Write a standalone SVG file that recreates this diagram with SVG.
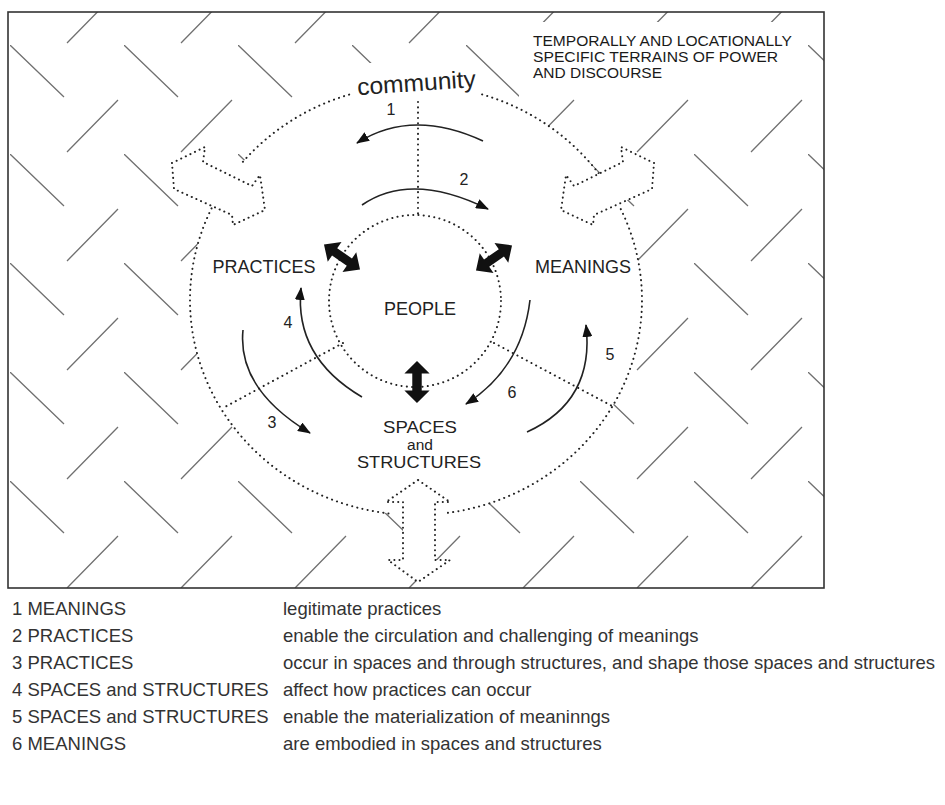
<svg xmlns="http://www.w3.org/2000/svg" width="945" height="805" viewBox="0 0 945 805">
<style>
  .dot{fill:none;stroke:#222;stroke-width:2;stroke-dasharray:0.1 5.2;stroke-linecap:round}
  .hollow{fill:#fff;stroke:#222;stroke-width:2;stroke-dasharray:0.1 5;stroke-linecap:round;stroke-linejoin:round}
  .thick{fill:#111}
  .curve{fill:none;stroke:#222;stroke-width:1.6}
  text{font-family:"Liberation Sans",Arial,sans-serif;fill:#222}
  .lbl{font-size:18px;text-anchor:middle}
  .num{font-size:16px;text-anchor:middle}
  .leg{font-size:18.5px;fill:#333}
  .tr{font-size:14.5px;fill:#1a1a1a}
</style>
<defs>
  <pattern id="hatch" patternUnits="userSpaceOnUse" x="10" y="45" width="114" height="109">
    <path d="M0,0 L54,52 M57,107 L108,55" stroke="#707070" stroke-width="1.3" fill="none"/>
  </pattern>
  <marker id="ah" viewBox="0 0 13 10" refX="12" refY="5" markerWidth="13" markerHeight="10" markerUnits="userSpaceOnUse" orient="auto">
    <path d="M0,0 L13,5 L0,10 z" fill="#111"/>
  </marker>
  <path id="dbl" d="M-22,0 L-9,-12 L-9,-4.5 L9,-4.5 L9,-12 L22,0 L9,12 L9,4.5 L-9,4.5 L-9,12 Z"/>
  <polygon id="hollowArrow" points="172,163 205,147 203,162 252,186 260,175 265,210 233,225 232,215 174,189"/>
</defs>

<rect x="0" y="0" width="945" height="805" fill="#fff"/>

<!-- terrain background -->
<g id="terrain">
  <rect x="8" y="12" width="816" height="576" fill="url(#hatch)"/>
  <ellipse cx="416" cy="300" rx="226" ry="215" fill="#fff"/>
  <rect x="354" y="63" width="130" height="35" fill="#fff"/>
  <rect x="519" y="22" width="282" height="76" fill="#fff"/>
  <rect x="8" y="12" width="816" height="576" fill="none" stroke="#333" stroke-width="1.6"/>
</g>

<g id="terrain-label">
  <text class="tr" x="533" y="46" textLength="259" lengthAdjust="spacingAndGlyphs">TEMPORALLY AND LOCATIONALLY</text>
  <text class="tr" x="533" y="62" textLength="245" lengthAdjust="spacingAndGlyphs">SPECIFIC TERRAINS OF POWER</text>
  <text class="tr" x="533" y="77.5" textLength="129" lengthAdjust="spacingAndGlyphs">AND DISCOURSE</text>
</g>

<!-- dotted rings and dividers -->
<g id="rings">
  <path class="dot" d="M482.1,94.4 A226,215 0 0 1 598.8,173.6"/>
  <path class="dot" d="M620.8,209.1 A226,215 0 0 1 443.5,513.4"/>
  <path class="dot" d="M388.5,513.4 A226,215 0 0 1 212.9,205.7"/>
  <path class="dot" d="M242.9,161.8 A226,215 0 0 1 353.7,93.3"/>
  <circle class="dot" cx="415" cy="301" r="86"/>
  <path class="dot" d="M418,102 L418,215"/>
  <path class="dot" d="M343,343 L223,408"/>
  <path class="dot" d="M494,343 L612,406"/>
</g>

<g id="connectors">
  <!-- hollow dotted arrows to the terrain -->
  <use href="#hollowArrow" class="hollow"/>
  <use href="#hollowArrow" class="hollow" transform="translate(826,0) scale(-1,1)"/>
  <polygon class="hollow" points="418,480 386,502 403,502 403,560 388,560 418,582 450,560 435,560 435,502 450,502"/>
  <!-- thick double arrows between people and the three elements -->
  <use href="#dbl" class="thick" transform="translate(342,257) rotate(35)"/>
  <use href="#dbl" class="thick" transform="translate(494,258) rotate(-35)"/>
  <use href="#dbl" class="thick" transform="translate(417,382) rotate(90) scale(0.95,1.05)"/>
  <!-- numbered curved arrows -->
  <path class="curve" d="M483,141 Q412,108 357,143" marker-end="url(#ah)"/>
  <path class="curve" d="M362,205 Q411,171 488,209" marker-end="url(#ah)"/>
  <path class="curve" d="M243,330 Q237,389 310,433" marker-end="url(#ah)"/>
  <path class="curve" d="M362,397 Q294,357 301,288" marker-end="url(#ah)"/>
  <path class="curve" d="M527,432 Q595,401 586,325" marker-end="url(#ah)"/>
  <path class="curve" d="M530,300 Q522,368 466,404" marker-end="url(#ah)"/>
  <text class="num" x="391" y="115">1</text>
  <text class="num" x="464" y="185">2</text>
  <text class="num" x="272" y="428">3</text>
  <text class="num" x="288" y="328">4</text>
  <text class="num" x="610" y="360">5</text>
  <text class="num" x="512" y="398">6</text>
</g>

<g id="community">
  <text x="417" y="91" font-size="24" text-anchor="middle" textLength="119" lengthAdjust="spacingAndGlyphs" transform="rotate(-4 417 91)">community</text>
</g>
<g id="practices"><text class="lbl" x="264" y="273">PRACTICES</text></g>
<g id="meanings"><text class="lbl" x="583" y="273">MEANINGS</text></g>
<g id="people"><text class="lbl" x="420" y="315">PEOPLE</text></g>
<g id="spaces">
  <text x="420" y="433" font-size="16.5" text-anchor="middle" textLength="74" lengthAdjust="spacingAndGlyphs">SPACES</text>
  <text x="420" y="450" font-size="15.5" text-anchor="middle">and</text>
  <text x="419" y="468" font-size="16.5" text-anchor="middle" textLength="124" lengthAdjust="spacingAndGlyphs">STRUCTURES</text>
</g>

<g id="legend">
  <text class="leg" x="12" y="615">1 MEANINGS</text>
  <text class="leg" x="283" y="615">legitimate practices</text>
  <text class="leg" x="12" y="642">2 PRACTICES</text>
  <text class="leg" x="283" y="642">enable the circulation and challenging of meanings</text>
  <text class="leg" x="12" y="669">3 PRACTICES</text>
  <text class="leg" x="283" y="669">occur in spaces and through structures, and shape those spaces and structures</text>
  <text class="leg" x="12" y="696">4 SPACES and STRUCTURES</text>
  <text class="leg" x="283" y="696">affect how practices can occur</text>
  <text class="leg" x="12" y="723">5 SPACES and STRUCTURES</text>
  <text class="leg" x="283" y="723">enable the materialization of meaninngs</text>
  <text class="leg" x="12" y="750">6 MEANINGS</text>
  <text class="leg" x="283" y="750">are embodied in spaces and structures</text>
</g>
</svg>
